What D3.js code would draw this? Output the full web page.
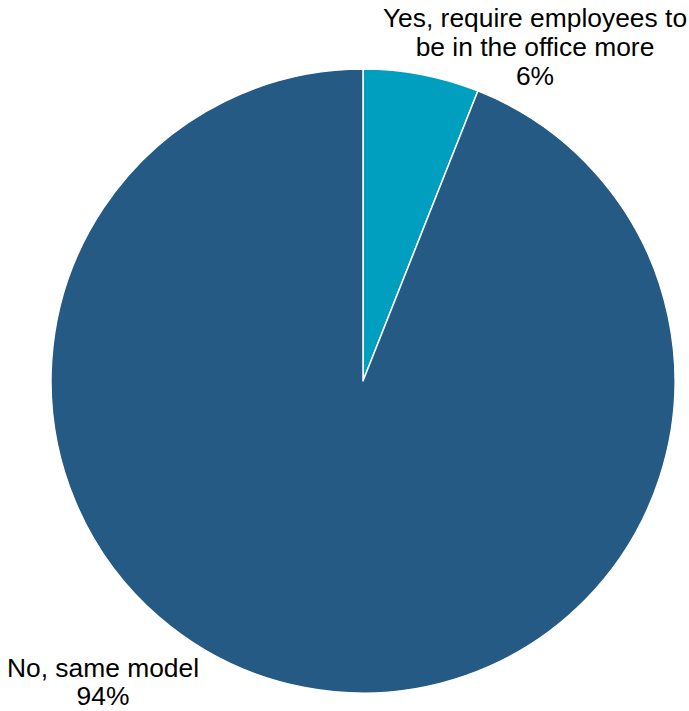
<!DOCTYPE html>
<html>
<head>
<meta charset="utf-8">
<script src="https://cdn.jsdelivr.net/npm/d3@7"></script>
<style>
  html, body { margin: 0; padding: 0; background: #fff; }
  svg { display: block; }
  text { font-family: "Liberation Sans", Arial, sans-serif; fill: #000; }
</style>
</head>
<body>
<svg id="chart" width="689" height="711"></svg>
<script>
// Survey answers and their shares (%)
const categories = ["Yes, require employees to be in the office more", "No, same model"];
const values = [6, 94];
const colors = ["#009FC0", "#255A84"];
// Label lines for each slice
const labelLines = [
  ["Yes, require employees to", "be in the office more", "6%"],
  ["No, same model", "94%"]
];

const width = 689, height = 711;
const cx = 363, cy = 381, radius = 312;

const svg = d3.select("#chart");
const g = svg.append("g").attr("transform", `translate(${cx},${cy})`);

const pie = d3.pie().sort(null).value(d => d.value);
const arcs = pie(categories.map((c, i) => ({ category: c, value: values[i], idx: i })));
const arc = d3.arc().innerRadius(0).outerRadius(radius);

g.selectAll("path.slice")
  .data(arcs)
  .join("path")
  .attr("class", "slice")
  .attr("d", arc)
  .attr("fill", d => colors[d.data.idx])
  .attr("stroke", "#fff")
  .attr("stroke-width", 1.5)
  .attr("stroke-linejoin", "round");

// Labels placed outside the pie
const labelPos = [
  { x: 535, y: 27, lh: 29 },
  { x: 103, y: 677, lh: 28 }
];
labelLines.forEach((lines, i) => {
  const t = svg.append("text")
    .attr("text-anchor", "middle")
    .attr("font-size", 26.4);
  lines.forEach((ln, j) => {
    t.append("tspan")
      .attr("x", labelPos[i].x)
      .attr("y", labelPos[i].y + j * labelPos[i].lh)
      .text(ln);
  });
});
</script>
</body>
</html>
